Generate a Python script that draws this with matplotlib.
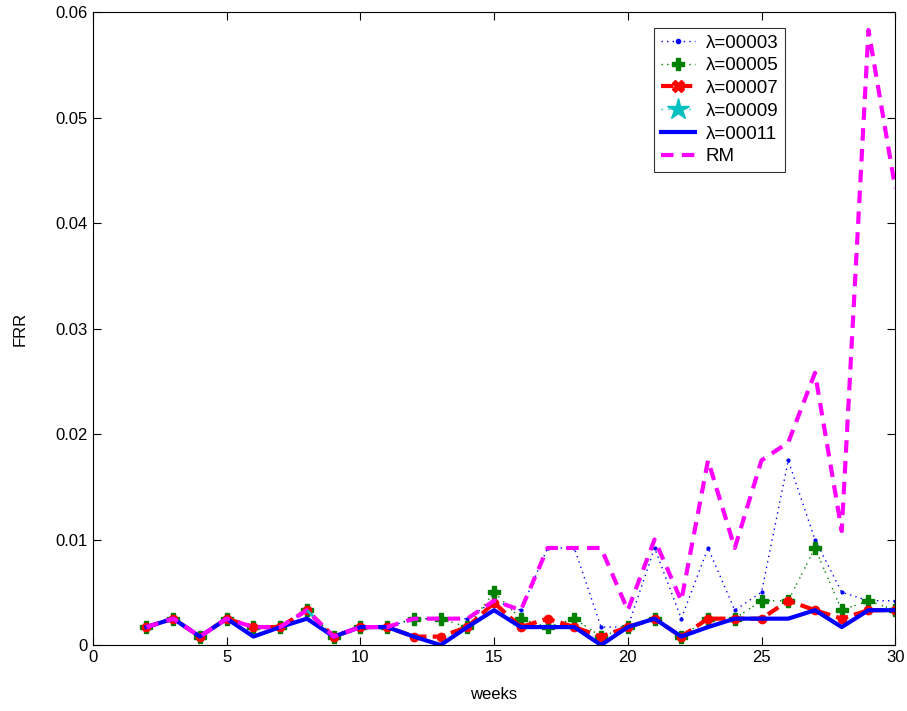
import matplotlib
matplotlib.use("Agg")
import matplotlib.pyplot as plt
from matplotlib.lines import Line2D

plt.rcParams['font.family'] = ['Liberation Sans', 'DejaVu Sans']

weeks = list(range(2, 31))

# FRR per week for each lambda and for RM
frr_l3 = [0.0017, 0.0025, 0.0008, 0.0025, 0.0017, 0.0017, 0.0033, 0.0008, 0.0017, 0.0017,
          0.0025, 0.0025, 0.0025, 0.0042, 0.0033, 0.0092, 0.0092, 0.0017, 0.0017, 0.0092,
          0.0025, 0.0092, 0.0033, 0.0050, 0.0175, 0.0100, 0.0050, 0.0042, 0.0042]
frr_l5 = [0.0017, 0.0025, 0.0008, 0.0025, 0.0017, 0.0017, 0.0033, 0.0008, 0.0017, 0.0017,
          0.0025, 0.0025, 0.0017, 0.0050, 0.0025, 0.0017, 0.0025, 0.0008, 0.0017, 0.0025,
          0.0008, 0.0025, 0.0025, 0.0042, 0.0042, 0.0092, 0.0033, 0.0042, 0.0033]
frr_l7 = [0.0017, 0.0025, 0.0008, 0.0025, 0.0017, 0.0017, 0.0033, 0.0008, 0.0017, 0.0017,
          0.0008, 0.0008, 0.0017, 0.0040, 0.0017, 0.0025, 0.0017, 0.0008, 0.0017, 0.0025,
          0.0008, 0.0025, 0.0025, 0.0025, 0.0042, 0.0033, 0.0025, 0.0033, 0.0033]
frr_l9 = [0.0017, 0.0025, 0.0008, 0.0025, 0.0008, 0.0017, 0.0033, 0.0008, 0.0017, 0.0017,
          0.0008, 0.0000, 0.0017, 0.0033, 0.0017, 0.0017, 0.0017, 0.0000, 0.0017, 0.0025,
          0.0008, 0.0017, 0.0025, 0.0025, 0.0025, 0.0033, 0.0017, 0.0033, 0.0033]
frr_l11 = [0.0017, 0.0025, 0.0008, 0.0025, 0.0008, 0.0017, 0.0025, 0.0008, 0.0017, 0.0017,
           0.0008, 0.0000, 0.0017, 0.0033, 0.0017, 0.0017, 0.0017, 0.0000, 0.0017, 0.0025,
           0.0008, 0.0017, 0.0025, 0.0025, 0.0025, 0.0033, 0.0017, 0.0033, 0.0033]
frr_rm = [0.0017, 0.0025, 0.0008, 0.0025, 0.0017, 0.0017, 0.0033, 0.0008, 0.0017, 0.0017,
          0.0025, 0.0025, 0.0025, 0.0042, 0.0033, 0.0092, 0.0092, 0.0092, 0.0033, 0.0100,
          0.0042, 0.0175, 0.0092, 0.0175, 0.0192, 0.0258, 0.0108, 0.0583, 0.0433]

labels = ['λ=00003', 'λ=00005', 'λ=00007', 'λ=00009', 'λ=00011', 'RM']

fig = plt.figure(figsize=(9.07, 7.11), dpi=100)
ax = fig.add_axes([0.1025, 0.0928, 0.8845, 0.8903])

ax.plot(weeks, frr_l3, color='blue', linestyle=(0, (1, 3)), linewidth=1.0,
        marker='.', markersize=4)
ax.plot(weeks, frr_l5, color='green', linestyle=(0, (1, 2, 1, 4)), linewidth=1.0,
        marker='P', markersize=8)
ax.plot(weeks, frr_l7, color='red', linestyle=(0, (3, 1.5)), linewidth=3.0,
        marker='o', markersize=6)
ax.plot(weeks, frr_l9, color='#00bfbf', linestyle=(0, (4, 3, 1, 3)), linewidth=2.0)
ax.plot(weeks, frr_l11, color='blue', linestyle='-', linewidth=3.0)
ax.plot(weeks, frr_rm, color='magenta', linestyle=(0, (3, 2)), linewidth=3.0)

# legend entries with the marker styles of each series
handles = [
    Line2D([], [], color='blue', linestyle=(0, (1, 3)), linewidth=1.0, marker='.', markersize=6),
    Line2D([], [], color='green', linestyle=(0, (1, 3)), linewidth=1.0, marker='P', markersize=9),
    Line2D([], [], color='red', linestyle=(0, (3, 1.5)), linewidth=3.0, marker='X', markersize=8),
    Line2D([], [], color='#00bfbf', linestyle=(0, (1, 4)), linewidth=1.0, marker='*', markersize=16),
    Line2D([], [], color='blue', linestyle='-', linewidth=3.0),
    Line2D([], [], color='magenta', linestyle=(0, (3, 2)), linewidth=3.0),
]
leg = ax.legend(handles, labels, loc='upper right', bbox_to_anchor=(0.863, 0.975),
                fontsize=13.5, frameon=True, fancybox=False, edgecolor='black',
                borderpad=0.35, labelspacing=0.3, handlelength=1.8, handletextpad=0.6,
                borderaxespad=0.0)
leg.get_frame().set_linewidth(0.8)

ax.set_xlim(0, 30)
ax.set_ylim(0, 0.06)
ax.set_xticks([0, 5, 10, 15, 20, 25, 30])
ax.set_yticks([0, 0.01, 0.02, 0.03, 0.04, 0.05, 0.06])
ax.set_yticklabels(['0', '0.01', '0.02', '0.03', '0.04', '0.05', '0.06'])
ax.tick_params(direction='in', top=True, right=True, labelsize=12, length=6)
ax.set_xlabel('weeks', fontsize=12, labelpad=16)
ax.set_ylabel('FRR', fontsize=12, labelpad=20)

plt.savefig('out.png', dpi=100)
